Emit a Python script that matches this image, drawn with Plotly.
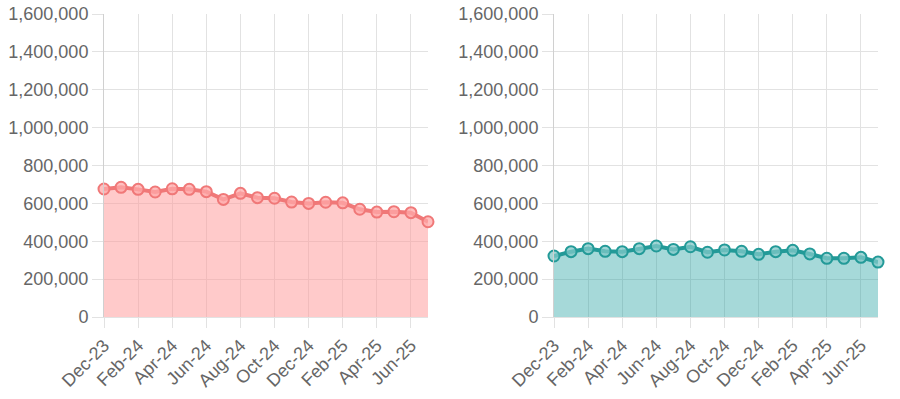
import plotly.graph_objects as go

months = ["Dec-23", "Jan-24", "Feb-24", "Mar-24", "Apr-24", "May-24", "Jun-24", "Jul-24",
          "Aug-24", "Sep-24", "Oct-24", "Nov-24", "Dec-24", "Jan-25", "Feb-25", "Mar-25",
          "Apr-25", "May-25", "Jun-25", "Jul-25"]
red_values = [676000, 685000, 674000, 660000, 677000, 674000, 662000, 621000, 653000, 630000,
              627000, 607000, 600000, 606000, 603000, 569000, 554000, 556000, 551000, 503000]
teal_values = [322000, 345000, 361000, 347000, 345000, 361000, 375000, 357000, 371000, 342000,
               354000, 347000, 331000, 345000, 352000, 333000, 310000, 310000, 315000, 290000]
tick_labels = months[::2]
y_ticks = [0, 200000, 400000, 600000, 800000, 1000000, 1200000, 1400000, 1600000]

GRID = "#e2e2e2"
FONT = dict(family="Liberation Sans, Arial, sans-serif", size=18, color="#666666")
W, H = 900, 399

fig = go.Figure()

def add_series(vals, line_col, fill_col, marker_fill, xa, ya):
    fig.add_trace(go.Scatter(
        x=months, y=vals, mode="lines+markers", fill="tozeroy",
        fillcolor=fill_col,
        line=dict(color=line_col, width=4),
        marker=dict(size=11, color=marker_fill, line=dict(color=line_col, width=2)),
        cliponaxis=False, xaxis=xa, yaxis=ya, showlegend=False,
    ))

add_series(red_values, "#f07878", "rgba(255,150,150,0.5)", "rgba(255,170,170,0.75)", "x", "y")
add_series(teal_values, "#239a98", "rgba(32,160,160,0.4)", "rgba(130,200,200,0.75)", "x2", "y2")

xcommon = dict(
    type="category", range=[0, len(months) - 1],
    tickmode="array", tickvals=tick_labels, ticktext=tick_labels,
    tickangle=-45, showgrid=True, gridcolor=GRID, gridwidth=1,
    ticks="outside", ticklen=10, tickcolor=GRID,
    showline=True, linecolor=GRID, linewidth=1,
    tickfont=FONT, zeroline=False, fixedrange=True, automargin=False,
)
ycommon = dict(
    range=[0, 1600000], tickmode="array", tickvals=y_ticks, tickformat=",",
    showgrid=True, gridcolor=GRID, gridwidth=1,
    ticks="outside", ticklen=11, tickcolor=GRID,
    showline=True, linecolor="#d0d0d0", linewidth=1,
    tickfont=FONT, zeroline=False, fixedrange=True, automargin=False,
)

fig.update_layout(
    width=W, height=H,
    margin=dict(l=0, r=0, t=14, b=H - 317),
    paper_bgcolor="white", plot_bgcolor="white",
    xaxis=dict(domain=[104 / W, 428 / W], anchor="y", **xcommon),
    xaxis2=dict(domain=[554 / W, 878 / W], anchor="y2", **xcommon),
    yaxis=dict(domain=[0, 1], anchor="x", **ycommon),
    yaxis2=dict(domain=[0, 1], anchor="x2", **ycommon),
    font=FONT,
)

fig.write_html(
    "out.html",
    config={"displayModeBar": False},
    post_script="document.body.style.margin='0';document.body.style.overflow='hidden';",
)
